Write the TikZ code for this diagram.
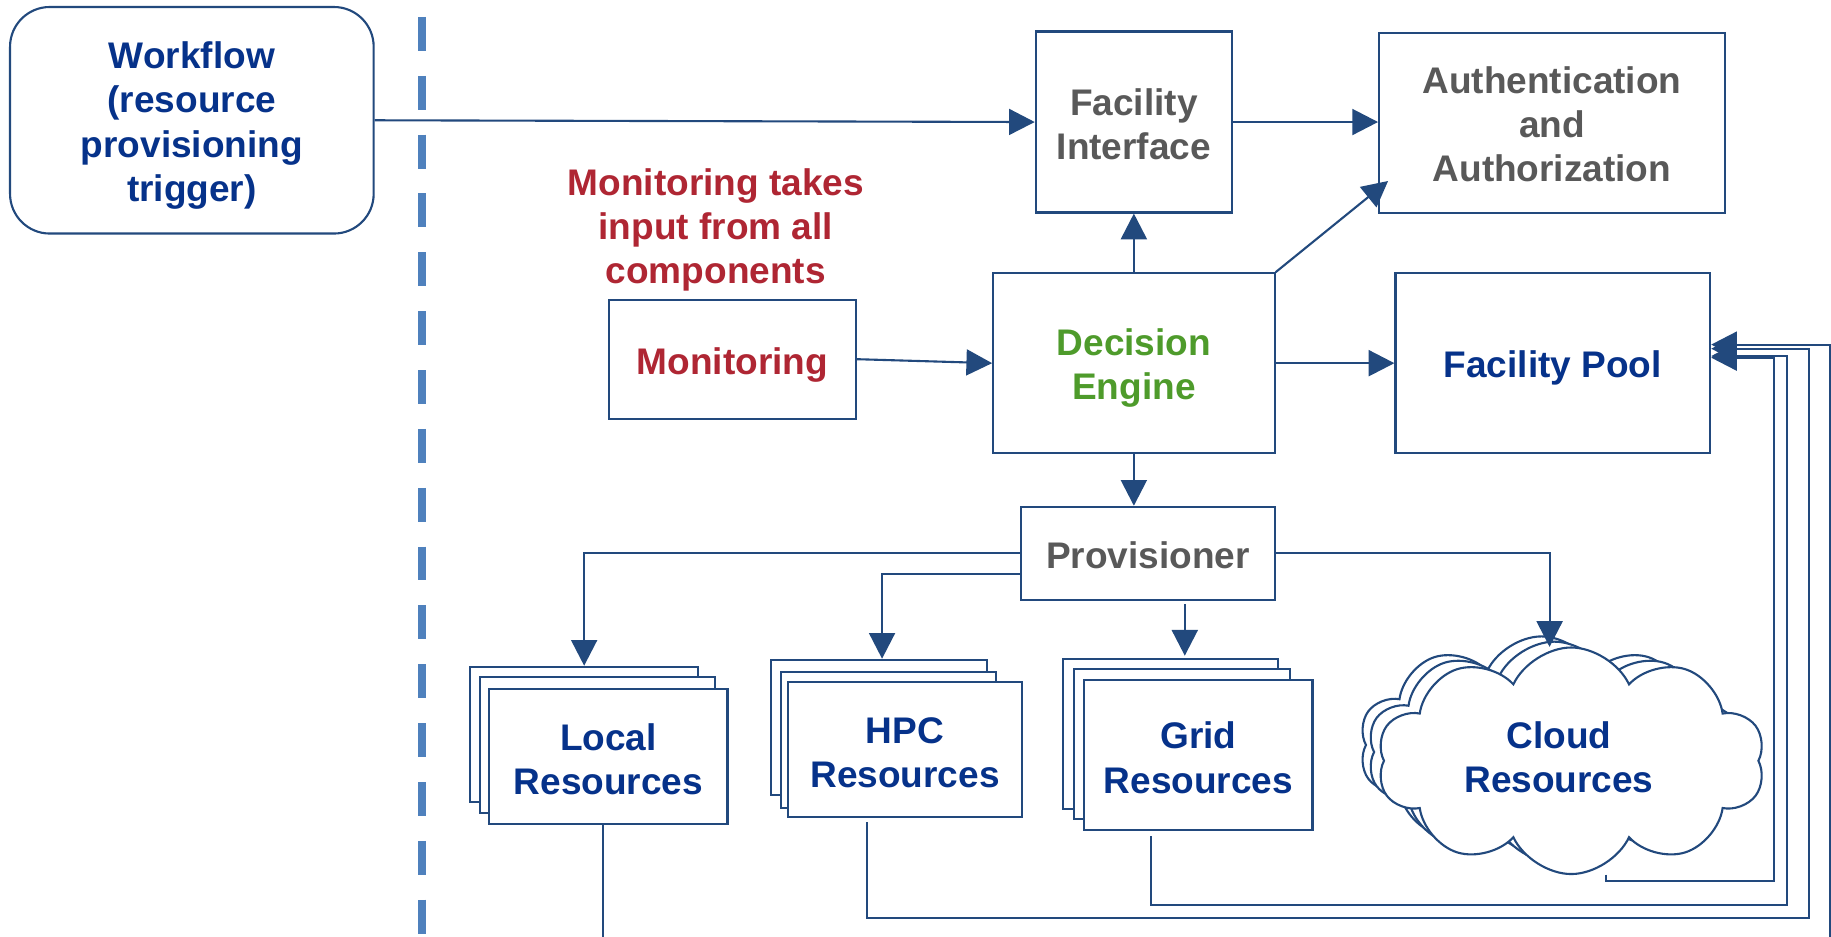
\documentclass[tikz,border=0pt]{standalone}
\usepackage{fontspec}
\setmainfont{Liberation Sans}
\usetikzlibrary{arrows.meta,shapes.symbols}
\definecolor{linec}{HTML}{22497D}
\definecolor{dashc}{HTML}{4F81BD}
\definecolor{tblue}{HTML}{06328A}
\definecolor{tgray}{HTML}{595959}
\definecolor{tgreen}{HTML}{4E9B2B}
\definecolor{tred}{HTML}{AF2633}
\newcommand{\lblfont}{\bfseries\fontsize{15.85}{19}\selectfont}
\newcommand{\lw}[1]{\rule{0pt}{#1}}
\begin{document}
\begin{tikzpicture}[x=0.5pt,y=-0.5pt,
  box/.style={draw=linec, line width=0.9pt, fill=white, inner sep=0pt, align=center, font=\lblfont, text=tblue},
  txt/.style={inner sep=0pt, align=center, font=\lblfont},
  cloudbox/.style={cloud, cloud puffs=10, cloud puff arc=130, cloud ignores aspect, draw=linec, line width=0.9pt, fill=white, inner sep=0pt},
  conn/.style={draw=linec, line width=0.9pt},
  arr/.style={conn, -{Triangle[length=11pt,width=11.1pt]}},
]
\useasboundingbox (0,0) rectangle (1568,802);
\clip (0,0) rectangle (1568,802);
\fill[white] (0,0) rectangle (1568,802);

% separator
\draw[dashc, line width=3.3pt, dash pattern=on 14.5pt off 10.7pt] (361.5,14.5) -- (361.5,810);

% main boxes
\node[box, rounded corners=17pt, minimum width=155.7pt, minimum height=97pt] (wf) at (164.3,103) {\lw{16.1pt}Workflow\\(resource\\provisioning\\trigger)};
\node[box, text=tgray, minimum width=84pt, minimum height=77.5pt] (fi) at (971,104.5) {\lw{13.6pt}Facility\\Interface};
\node[box, text=tgray, minimum width=148pt, minimum height=77.25pt] (auth) at (1329,105.2) {\lw{12.6pt}Authentication\\and\\Authorization};
\node[txt, text=tred] (note) at (613,197) {Monitoring takes\\input from all\\components};
\node[box, text=tred, minimum width=105.75pt, minimum height=51pt] (mon) at (627.25,307.6) {\lw{16.4pt}Monitoring};
\node[box, text=tgreen, minimum width=120.5pt, minimum height=77pt] (de) at (971,311) {\lw{15.6pt}Decision\\Engine};
\node[box, minimum width=134.75pt, minimum height=77pt] (fp) at (1329.75,311) {\lw{15.6pt}Facility Pool};
\node[box, text=tgray, minimum width=109pt, minimum height=39.75pt] (prov) at (983,473.75) {\lw{13.6pt}Provisioner};

% local stack
\node[box, minimum width=97.75pt, minimum height=58pt] (lb) at (500.25,629) {};
\node[box, minimum width=100.5pt, minimum height=58pt] (lm) at (511.5,638) {};
\node[box, minimum width=102pt, minimum height=58pt] (lf) at (521,648) {\lw{13.6pt}Local\\Resources};
% hpc stack
\node[box, minimum width=92.25pt, minimum height=58pt] (hb) at (752.75,623) {};
\node[box, minimum width=92pt, minimum height=58.25pt] (hm) at (761,633.75) {};
\node[box, minimum width=100pt, minimum height=58pt] (hf) at (775,642) {\lw{13.6pt}HPC\\Resources};
% grid stack
\node[box, minimum width=92.25pt, minimum height=64.3pt] (gb) at (1002.25,628.3) {};
\node[box, minimum width=92.3pt, minimum height=64.25pt] (gm) at (1012.3,637.25) {};
\node[box, minimum width=97.7pt, minimum height=64.3pt] (gf) at (1026.3,646.7) {\lw{13.6pt}Grid\\Resources};
% cloud stack
\node[cloudbox, minimum width=156pt, minimum height=93pt] (cb) at (1320,638) {};
\node[cloudbox, minimum width=160pt, minimum height=94.5pt] (cm) at (1331,644) {};
\node[cloudbox, minimum width=166pt, minimum height=97pt] (cf) at (1345.5,651.5) {};
\node[txt, text=tblue] (ctxt) at (1335,648.5) {Cloud\\Resources};

% helper coordinates
\coordinate (authtip) at (1188.7,155);
\coordinate (gx) at (1014.6,0);
\coordinate (hy) at (0,491.3);
\coordinate (ctop) at (1327,554);
\coordinate (lx) at (516,0);
\coordinate (hs) at (742.7,704);
\coordinate (gs) at (985.6,716);
\coordinate (cs) at (1375,749);
\coordinate (y1) at (0,295.1);
\coordinate (y2) at (0,298.6);
\coordinate (y3) at (0,304.9);
\coordinate (y4) at (0,306.3);

% top connectors
\draw[arr] (wf.east) -- (fi.west);
\draw[arr] (fi.east) -- (fi.east -| auth.west);
\draw[arr] (de.north) -- (fi.south);
\draw[arr] (de.north east) -- (authtip);
\draw[arr] (mon.east) -- (de.west);
\draw[arr] (de.east) -- (fp.west);
\draw[arr] (de.south) -- (de.south |- prov.north);

% provisioner to resources
\draw[arr] (prov.west) -| (lb.north);
\draw[arr] (prov.west |- hy) -| ([xshift=1.3pt]hb.north);
\draw[arr] ([yshift=-1.6pt]prov.south -| gx) -- ([yshift=0.8pt]gb.north -| gx);
\draw[arr] (prov.east) -| (ctop);

% feedback to facility pool
\draw[arr] (lf.south -| lx) -- (516,820) -- (1567,820) -- (1567,295.1) -- (fp.east |- y1);
\draw[arr] (hs) -- (742.7,786.5) -- (1549,786.5) -- (1549,298.6) -- (fp.east |- y2);
\draw[arr] (gs) -- (985.6,775) -- (1530,775) -- (1530,304.9) -- (fp.east |- y3);
\draw[arr] (cs) -- (1375,754.5) -- (1519,754.5) -- (1519,306.3) -- (fp.east |- y4);
\end{tikzpicture}
\end{document}
